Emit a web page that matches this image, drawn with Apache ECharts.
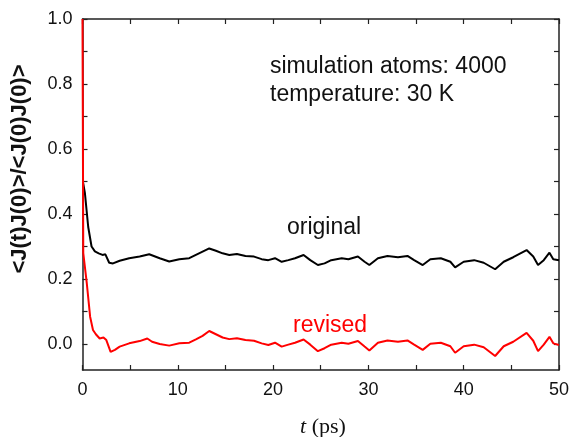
<!DOCTYPE html>
<html>
<head>
<meta charset="utf-8">
<script src="https://cdn.jsdelivr.net/npm/echarts@6/dist/echarts.min.js"></script>
<style>html,body{margin:0;padding:0;background:#fff}#c{width:572px;height:437px}</style>
</head>
<body>
<div id="c"></div>
<script>
// time (ps) and normalized correlation values
var blackT = [0.04, 0.25, 0.6, 0.95, 1.3, 1.7, 2.1, 2.4, 2.8, 3.2, 3.9, 4.9, 6.0, 7.0, 8.1, 9.1, 10.16, 11.2, 11.9, 12.6, 13.3, 14.0, 14.7, 15.4, 16.2, 17.1, 18.0, 18.8, 19.5, 20.2, 20.9, 21.6, 22.3, 23.2, 23.9, 24.7, 25.4, 26.1, 27.2, 27.9, 28.9, 29.6, 30.1, 31.0, 32.0, 33.1, 34.1, 34.8, 35.7, 36.5, 37.6, 38.6, 39.1, 40.0, 41.1, 42.1, 43.3, 44.2, 45.2, 46.6, 47.3, 47.8, 48.4, 49.0, 49.4, 50];
var blackV = [0.50, 0.465, 0.36, 0.30, 0.285, 0.279, 0.274, 0.276, 0.25, 0.248, 0.256, 0.264, 0.269, 0.276, 0.264, 0.254, 0.261, 0.264, 0.274, 0.284, 0.294, 0.287, 0.279, 0.274, 0.277, 0.271, 0.269, 0.261, 0.258, 0.264, 0.253, 0.258, 0.264, 0.274, 0.258, 0.243, 0.248, 0.258, 0.264, 0.261, 0.269, 0.253, 0.243, 0.264, 0.271, 0.267, 0.271, 0.258, 0.243, 0.261, 0.264, 0.253, 0.236, 0.253, 0.258, 0.25, 0.23, 0.253, 0.267, 0.289, 0.269, 0.243, 0.258, 0.281, 0.261, 0.258];
var redT = [0, 0.08, 0.45, 0.8, 1.1, 1.4, 1.8, 2.2, 2.5, 2.95, 3.4, 3.9, 4.9, 6.0, 6.8, 7.3, 8.1, 9.1, 10.16, 11.2, 11.9, 12.6, 13.3, 14.0, 14.7, 15.4, 16.2, 17.1, 18.0, 18.8, 19.5, 20.2, 20.9, 21.6, 22.3, 23.2, 23.9, 24.7, 25.4, 26.1, 27.2, 27.9, 28.9, 29.6, 30.1, 31.0, 32.0, 33.1, 34.1, 34.8, 35.7, 36.5, 37.6, 38.6, 39.1, 40.0, 41.1, 42.1, 43.3, 44.2, 45.2, 46.6, 47.3, 47.8, 48.4, 49.0, 49.4, 50];
var redV = [1.0, 0.28, 0.187, 0.084, 0.043, 0.03, 0.017, 0.02, 0.012, -0.024, -0.018, -0.008, 0.002, 0.009, 0.017, 0.007, 0.0, -0.005, 0.002, 0.004, 0.014, 0.025, 0.04, 0.03, 0.02, 0.015, 0.018, 0.012, 0.01, 0.002, -0.003, 0.004, -0.008, -0.002, 0.004, 0.014, -0.002, -0.022, -0.013, -0.002, 0.004, 0.001, 0.009, -0.008, -0.02, 0.004, 0.011, 0.007, 0.011, -0.002, -0.018, 0.001, 0.004, -0.007, -0.027, -0.007, -0.002, -0.01, -0.037, -0.007, 0.007, 0.034, 0.01, -0.022, -0.002, 0.022, 0.002, -0.003];
var xTicks = [0, 5, 10, 15, 20, 25, 30, 35, 40, 45, 50];
var xLabels = [0, 10, 20, 30, 40, 50];
var yTicks = [0, 0.1, 0.2, 0.3, 0.4, 0.5, 0.6, 0.7, 0.8, 0.9, 1.0];
var yLabels = [0, 0.2, 0.4, 0.6, 0.8, 1.0];
var seriesNames = ['original', 'revised'];
var annotation = ['simulation atoms: 4000', 'temperature: 30 K'];

function pairs(t, v) { return t.map(function (x, i) { return [x, v[i]]; }); }

var AX = '#222';
var FONT = 'Liberation Sans, Arial, Helvetica, sans-serif';
function xa(pos, showLabel) {
  return {
    type: 'value', min: 0, max: 50, position: pos,
    axisLine: { show: true, onZero: false, lineStyle: { color: AX, width: 1.5 } },
    axisTick: { show: true, inside: true, length: 5, customValues: xTicks, lineStyle: { color: AX, width: 1.2 } },
    axisLabel: { show: showLabel, customValues: xLabels, fontSize: 18, color: '#111', fontFamily: FONT, margin: 11 },
    splitLine: { show: false }
  };
}
function ya(pos, showLabel) {
  return {
    type: 'value', min: -0.08, max: 1.0, position: pos,
    axisLine: { show: true, onZero: false, lineStyle: { color: AX, width: 1.5 } },
    axisTick: { show: true, inside: true, length: 5, customValues: yTicks, lineStyle: { color: AX, width: 1.2 } },
    axisLabel: { show: showLabel, customValues: yLabels, fontSize: 18, color: '#111', fontFamily: FONT, margin: 10,
      formatter: function (v) { return v.toFixed(1); } },
    splitLine: { show: false }
  };
}

var chart = echarts.init(document.getElementById('c'), null, { renderer: 'canvas' });
chart.setOption({
  animation: false,
  backgroundColor: '#fff',
  grid: { left: 82.5, right: 9, top: 19, bottom: 67 },
  xAxis: [xa('bottom', true), xa('top', false)],
  yAxis: [ya('left', true), ya('right', false)],
  series: [
    { name: seriesNames[0], type: 'line', data: pairs(blackT, blackV), showSymbol: false, smooth: false,
      lineStyle: { color: '#000', width: 2 }, z: 2 },
    { name: seriesNames[1], type: 'line', data: pairs(redT, redV), showSymbol: false, smooth: false,
      lineStyle: { color: '#ff0000', width: 2 }, z: 3 }
  ],
  graphic: [
    { type: 'text', x: 270, y: 67, style: { text: annotation[0], font: '23px ' + FONT, fill: '#111', textAlign: 'left', textVerticalAlign: 'middle' } },
    { type: 'text', x: 270, y: 95, style: { text: annotation[1], font: '23px ' + FONT, fill: '#111', textAlign: 'left', textVerticalAlign: 'middle' } },
    { type: 'text', x: 287, y: 228, style: { text: seriesNames[0], font: '23px ' + FONT, fill: '#111', textAlign: 'left', textVerticalAlign: 'middle' } },
    { type: 'text', x: 293, y: 326, style: { text: seriesNames[1], font: '23px ' + FONT, fill: '#ff0000', textAlign: 'left', textVerticalAlign: 'middle' } },
    { type: 'text', x: 20, y: 169, rotation: Math.PI / 2,
      style: { text: '<J(t)J(0)>/<J(0)J(0)>', font: 'bold 22px ' + FONT, fill: '#111', textAlign: 'center', textVerticalAlign: 'middle' } },
    { type: 'text', x: 323, y: 427,
      style: { text: '{i|t} (ps)', font: '22px Liberation Serif, Times New Roman, serif', fill: '#111', textAlign: 'center', textVerticalAlign: 'middle',
        rich: { i: { fontStyle: 'italic', fontFamily: 'Liberation Serif, Times New Roman, serif', fontSize: 22, fill: '#111' } } } }
  ]
});
</script>
</body>
</html>
